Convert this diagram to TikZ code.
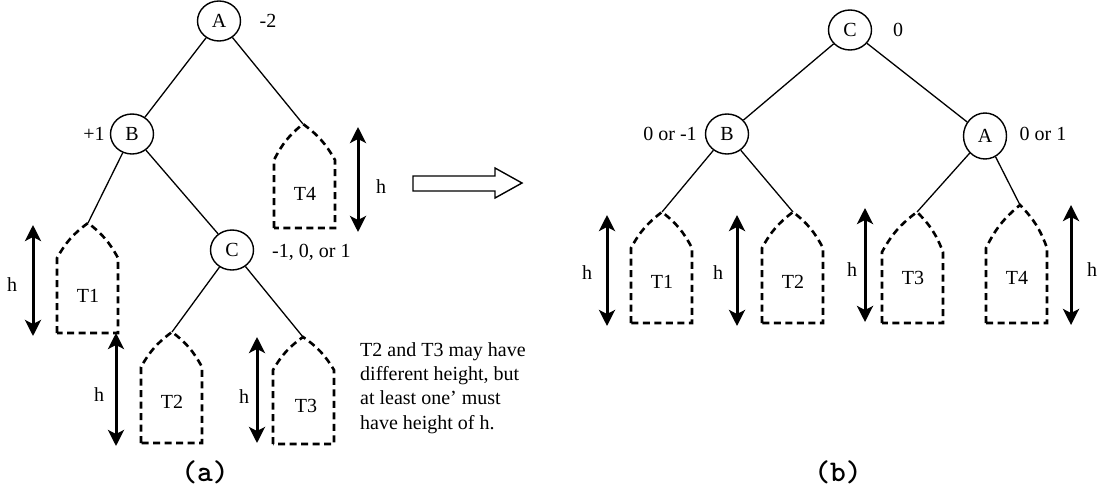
\documentclass[tikz,border=0pt]{standalone}
\usepackage{fontspec}
\setmainfont{Liberation Serif}
\usetikzlibrary{arrows.meta,shapes.geometric}
\tikzset{
  tn/.style={draw,ellipse,line width=1.4pt,minimum width=43pt,minimum height=40pt,inner sep=0pt,font=\fontsize{20}{24}\selectfont},
  lbl/.style={font=\fontsize{20}{24}\selectfont,inner sep=0pt},
  edge/.style={line width=1.3pt},
  sub/.style={line width=2.6pt,dash pattern=on 7pt off 4.5pt},
  harr/.style={line width=3pt,{Stealth[length=16pt,width=16pt,inset=4pt]}-{Stealth[length=16pt,width=16pt,inset=4pt]}},
  figcap/.style={font=\fontsize{30}{34}\selectfont\ttfamily\bfseries,inner sep=0pt}
}
\newcommand\subtr[6]{% name, apexx, apexy, left, shoulder, bottom
  \coordinate (#1) at (#2,#3);
  \draw[sub] (#4,#6) -- (#4,#5) to[bend left=12] (#1) to[bend left=12] (#4+61,#5) -- (#4+61,#6) -- cycle;
}
\begin{document}
\begin{tikzpicture}[x=1pt,y=-1pt]
\useasboundingbox (0,0) rectangle (1099,487);
% ---------- (a) ----------
\node[tn] (aA) at (219,21) {A};
\node[lbl] (aAl) at (268,21) {-2};
\node[tn] (aB) at (132,134) {B};
\node[lbl] (aBl) at (94,134) {+1};
\node[tn] (aC) at (232,250) {C};
\node[lbl,anchor=west] (aCl) at (272,252) {-1, 0, or 1};
% subtrees (a)
\subtr{aT1}{88}{223}{57}{258}{333}
\node[lbl] (aT1l) at (88,296) {T1};
\subtr{aT4}{303}{124}{274}{160}{228}
\node[lbl] (aT4l) at (305,194) {T4};
\subtr{aT2}{172}{332}{141}{367}{443}
\node[lbl] (aT2l) at (172,402) {T2};
\subtr{aT3}{303}{337}{273}{370}{444}
\node[lbl] (aT3l) at (306,406) {T3};
\draw[edge] (aA) -- (aB);
\draw[edge] (aA) -- (aT4);
\draw[edge] (aB) -- (aT1);
\draw[edge] (aB) -- (aC);
\draw[edge] (aC) -- (aT2);
\draw[edge] (aC) -- (aT3);
% height arrows (a)
\coordinate (h1t) at (33,225); \coordinate (h1b) at (33,336);
\draw[harr] (h1t) -- (h1b);
\node[lbl] (h1) at (12,285) {h};
\coordinate (h4t) at (358,127); \coordinate (h4b) at (358,232);
\draw[harr] (h4t) -- (h4b);
\node[lbl] (h4) at (381,187) {h};
\coordinate (h2t) at (116,333); \coordinate (h2b) at (116,446);
\draw[harr] (h2t) -- (h2b);
\node[lbl] (h2) at (99,395) {h};
\coordinate (h3t) at (257,337); \coordinate (h3b) at (257,443);
\draw[harr] (h3t) -- (h3b);
\node[lbl] (h3) at (244,397) {h};
\node[lbl,anchor=west,align=left,font=\fontsize{20}{24.3}\selectfont] (note) at (360,388)
  {T2 and T3 may have\\different height, but\\at least one' must\\have height of h.};
\node[figcap] (capa) at (205,472) {(a)};
% hollow arrow
\draw[line width=1.4pt,line join=miter] (413,176) -- (495,176) -- (495,168) -- (522,183) -- (495,198) -- (495,191) -- (413,191) -- cycle;
% ---------- (b) ----------
\node[tn] (bC) at (850,30) {C};
\node[lbl] (bCl) at (898,30) {0};
\node[tn] (bB) at (727,134) {B};
\node[lbl] (bBl) at (670,134) {0 or -1};
\node[tn,minimum height=46pt] (bA) at (985,136) {A};
\node[lbl] (bAl) at (1043,134) {0 or 1};
\subtr{bT1}{662}{212}{631}{248}{323}
\node[lbl] (bT1l) at (662,282) {T1};
\subtr{bT2}{793}{212}{762}{248}{323}
\node[lbl] (bT2l) at (793,282) {T2};
\subtr{bT3}{917}{212}{882}{252}{323}
\node[lbl] (bT3l) at (913,278) {T3};
\subtr{bT4}{1020}{205}{986}{248}{323}
\node[lbl] (bT4l) at (1017,278) {T4};
\draw[edge] (bC) -- (bB);
\draw[edge] (bC) -- (bA);
\draw[edge] (bB) -- (bT1);
\draw[edge] (bB) -- (bT2);
\draw[edge] (bA) -- (bT3);
\draw[edge] (bA) -- (bT4);
\coordinate (g1t) at (607,215); \coordinate (g1b) at (607,326);
\draw[harr] (g1t) -- (g1b);
\node[lbl] (g1) at (587,273) {h};
\coordinate (g2t) at (737,215); \coordinate (g2b) at (737,326);
\draw[harr] (g2t) -- (g2b);
\node[lbl] (g2) at (718,273) {h};
\coordinate (g3t) at (865,208); \coordinate (g3b) at (865,322);
\draw[harr] (g3t) -- (g3b);
\node[lbl] (g3) at (852,270) {h};
\coordinate (g4t) at (1071,205); \coordinate (g4b) at (1071,325);
\draw[harr] (g4t) -- (g4b);
\node[lbl] (g4) at (1092,270) {h};
\node[figcap] (capb) at (838,472) {(b)};
\end{tikzpicture}
\end{document}
